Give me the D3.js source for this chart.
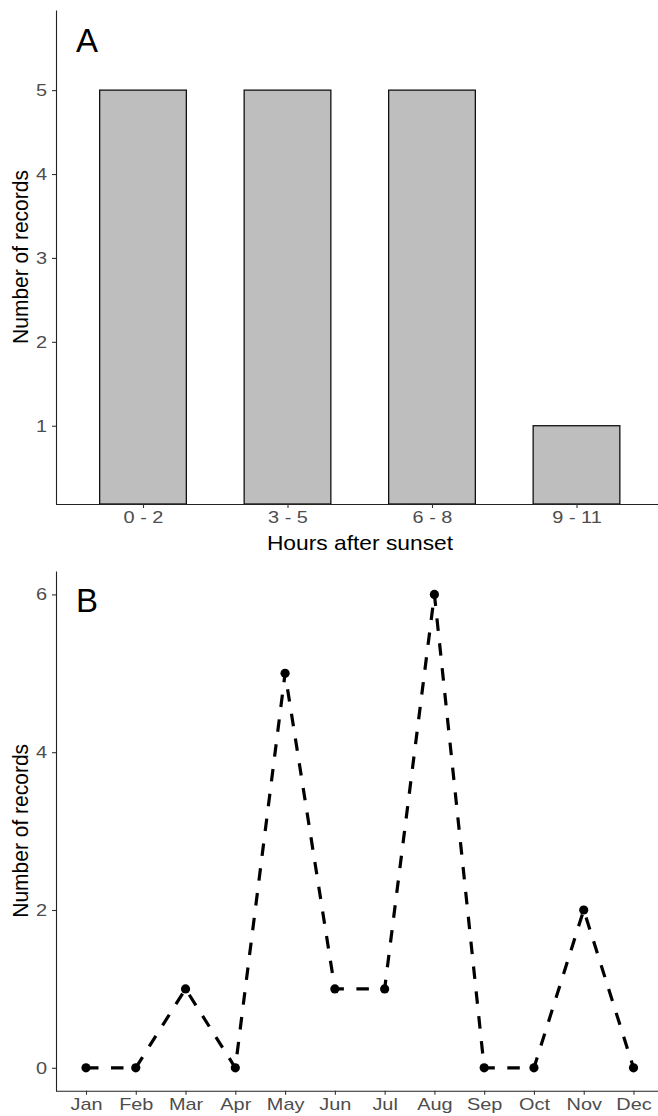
<!DOCTYPE html>
<html>
<head>
<meta charset="utf-8">
<script src="https://cdn.jsdelivr.net/npm/d3@7"></script>
<style>
  html, body { margin: 0; padding: 0; background: #fff; }
  svg { display: block; font-family: "Liberation Sans", Arial, sans-serif; }
</style>
</head>
<body>
<svg id="chart" width="658" height="1116"></svg>
<script>
// ---- Data ----
const hourCategories = ["0 - 2", "3 - 5", "6 - 8", "9 - 11"];
const hourCounts = [5, 5, 5, 1];
const hourTicks = [1, 2, 3, 4, 5];

const months = ["Jan", "Feb", "Mar", "Apr", "May", "Jun", "Jul", "Aug", "Sep", "Oct", "Nov", "Dec"];
const monthCounts = [0, 0, 1, 0, 5, 1, 1, 6, 0, 0, 2, 0];
const monthTicks = [0, 2, 4, 6];

const svg = d3.select("#chart");
const tickColor = "#4D4D4D";
const axisColor = "#222";
const SX = 1.17; // horizontal stretch of text glyphs to match reference

function styleAxis(g, orient) {
  g.select(".domain").attr("stroke", axisColor).attr("stroke-width", 1.1);
  g.selectAll(".tick line").attr("stroke", "#333").attr("stroke-width", 1.1);
  const t = g.selectAll(".tick text").attr("fill", tickColor)
    .style("font-size", "17px")
    .style("font-family", "'Liberation Sans', Arial, sans-serif");
  if (orient === "left") {
    t.attr("x", -9 / SX).attr("transform", `scale(${SX},1)`);
  } else {
    t.attr("transform", `scale(${SX},1)`);
  }
}

function yTitle(cy) {
  svg.append("text").attr("transform", `translate(28,${cy}) rotate(-90) scale(1,1.05)`)
    .attr("text-anchor", "middle").style("font-size", "21px").attr("fill", "#000")
    .text("Number of records");
}

// ---- Panel A ----
{
  const left = 56, right = 658, top = 10, bottom = 504;
  const y = d3.scaleLinear().domain([0.067, 5.955]).range([bottom, top]);
  const x = d3.scalePoint().domain(hourCategories).range([143, 576.5]);
  const bw = x.step() * 0.6;

  svg.append("g").selectAll("rect").data(hourCategories).join("rect")
    .attr("x", d => x(d) - bw / 2)
    .attr("width", bw)
    .attr("y", (d, i) => y(hourCounts[i]))
    .attr("height", (d, i) => bottom - y(hourCounts[i]))
    .attr("fill", "#BEBEBE")
    .attr("stroke", "#111")
    .attr("stroke-width", 1.3);

  const ya = svg.append("g").attr("transform", `translate(${left},0)`)
    .call(d3.axisLeft(y).tickValues(hourTicks).tickFormat(d3.format("d")).tickSize(4).tickSizeOuter(0));
  styleAxis(ya, "left");

  const xa = svg.append("g").attr("transform", `translate(0,${bottom})`)
    .call(d3.axisBottom(x).tickSize(4).tickSizeOuter(0).tickPadding(3));
  xa.select(".domain").attr("d", `M${left},0.5H${right}`);
  styleAxis(xa, "bottom");

  svg.append("text").attr("transform", `translate(360,550) scale(1.14,1)`)
    .attr("text-anchor", "middle")
    .style("font-size", "20px").attr("fill", "#000").text("Hours after sunset");

  yTitle((top + bottom) / 2);

  svg.append("text").attr("x", 76).attr("y", 52)
    .style("font-size", "33px").attr("fill", "#000").text("A");
}

// ---- Panel B ----
{
  const left = 56, right = 658, top = 571, bottom = 1090.7;
  const zeroY = 1067.8, unit = 78.9;
  const y = d3.scaleLinear()
    .domain([(zeroY - bottom) / unit, (zeroY - top) / unit])
    .range([bottom, top]);
  const x = d3.scalePoint().domain(months).range([86, 633.5]);

  const line = d3.line().x((d, i) => x(months[i])).y(d => y(d));
  svg.append("path").datum(monthCounts)
    .attr("d", line)
    .attr("fill", "none")
    .attr("stroke", "#000")
    .attr("stroke-width", 3.2)
    .attr("stroke-dasharray", "12.5,12.5");

  svg.append("g").selectAll("circle").data(monthCounts).join("circle")
    .attr("cx", (d, i) => x(months[i]))
    .attr("cy", d => y(d))
    .attr("r", 4.6)
    .attr("fill", "#000");

  const ya = svg.append("g").attr("transform", `translate(${left},0)`)
    .call(d3.axisLeft(y).tickValues(monthTicks).tickFormat(d3.format("d")).tickSize(4).tickSizeOuter(0));
  styleAxis(ya, "left");

  const xa = svg.append("g").attr("transform", `translate(0,${bottom})`)
    .call(d3.axisBottom(x).tickSize(4).tickSizeOuter(0).tickPadding(3));
  xa.select(".domain").attr("d", `M${left},0.5H${right}`);
  styleAxis(xa, "bottom");

  yTitle((top + bottom) / 2);

  svg.append("text").attr("x", 76).attr("y", 612)
    .style("font-size", "33px").attr("fill", "#000").text("B");
}
</script>
</body>
</html>
